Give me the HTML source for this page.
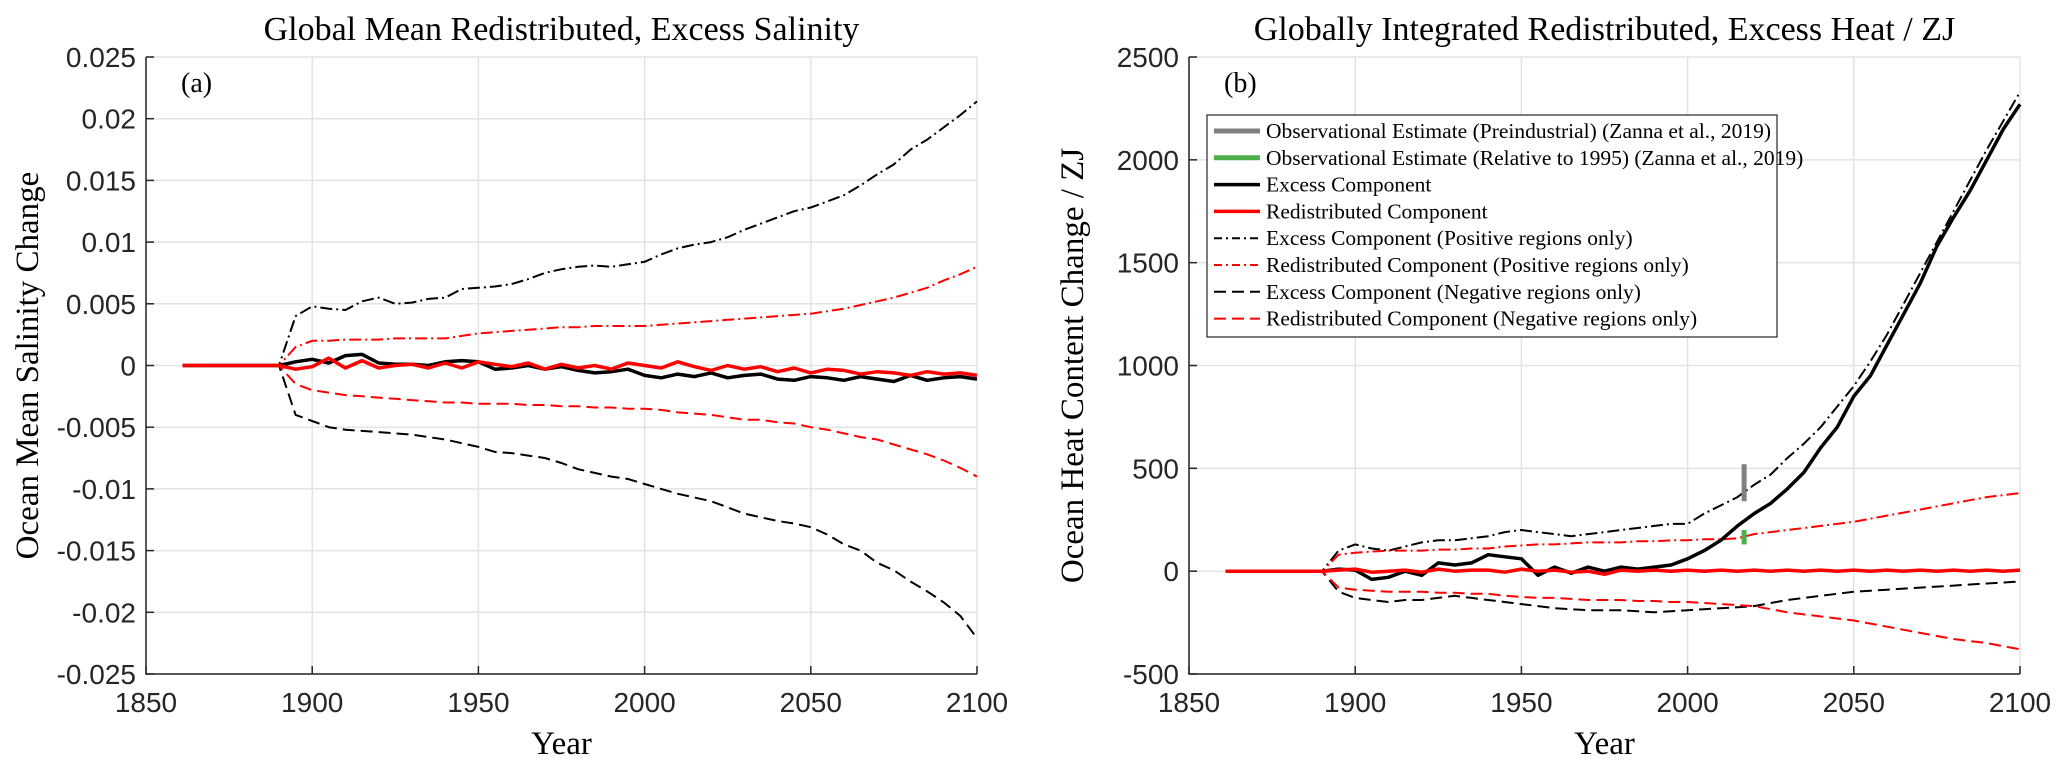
<!DOCTYPE html>
<html><head><meta charset="utf-8">
<style>
html,body{margin:0;padding:0;background:#fff;}
svg{display:block;}
.tick{font-family:"Liberation Sans",sans-serif;font-size:28px;fill:#262626;}
.ser{font-family:"Liberation Serif",serif;fill:#000;}
</style></head>
<body>
<svg id="chart" width="2067" height="763" viewBox="0 0 2067 763" xmlns="http://www.w3.org/2000/svg"></svg>
<script>
// ---------- DATA ----------
const yearsA = [1890,1895,1900,1905,1910,1915,1920,1925,1930,1935,1940,1945,1950,1955,1960,1965,1970,1975,1980,1985,1990,1995,2000,2005,2010,2015,2020,2025,2030,2035,2040,2045,2050,2055,2060,2065,2070,2075,2080,2085,2090,2095,2100];
const salExcess   = [0,0.0003,0.0005,0.0002,0.0008,0.0009,0.0002,0.0001,0.0001,0.0000,0.0003,0.0004,0.0003,-0.0003,-0.0002,0.0000,-0.0003,-0.0001,-0.0004,-0.0006,-0.0005,-0.0003,-0.0008,-0.0010,-0.0007,-0.0009,-0.0006,-0.0010,-0.0008,-0.0007,-0.0011,-0.0012,-0.0009,-0.0010,-0.0012,-0.0009,-0.0011,-0.0013,-0.0008,-0.0012,-0.0010,-0.0009,-0.0011];
const salRedist   = [0,-0.0003,-0.0001,0.0006,-0.0002,0.0004,-0.0002,0.0000,0.0001,-0.0002,0.0002,-0.0002,0.0003,0.0001,-0.0001,0.0002,-0.0003,0.0001,-0.0002,0.0000,-0.0003,0.0002,0.0000,-0.0002,0.0003,-0.0001,-0.0004,0.0000,-0.0003,-0.0001,-0.0005,-0.0002,-0.0006,-0.0003,-0.0004,-0.0007,-0.0005,-0.0006,-0.0008,-0.0005,-0.0007,-0.0006,-0.0008];
const salExcessPos= [0,0.0040,0.0048,0.0046,0.0045,0.0052,0.0055,0.0050,0.0051,0.0054,0.0055,0.0062,0.0063,0.0064,0.0066,0.0070,0.0075,0.0078,0.0080,0.0081,0.0080,0.0082,0.0084,0.0090,0.0095,0.0098,0.0100,0.0104,0.0110,0.0115,0.0120,0.0125,0.0128,0.0133,0.0138,0.0146,0.0155,0.0163,0.0175,0.0183,0.0193,0.0203,0.0214];
const salExcessNeg= [0,-0.0040,-0.0045,-0.0050,-0.0052,-0.0053,-0.0054,-0.0055,-0.0056,-0.0058,-0.0060,-0.0063,-0.0066,-0.0070,-0.0071,-0.0073,-0.0075,-0.0079,-0.0084,-0.0087,-0.0090,-0.0092,-0.0096,-0.0100,-0.0104,-0.0107,-0.0110,-0.0115,-0.0120,-0.0123,-0.0126,-0.0128,-0.0131,-0.0137,-0.0145,-0.0150,-0.0160,-0.0166,-0.0175,-0.0183,-0.0192,-0.0203,-0.0221];
const salRedistPos= [0,0.0015,0.0020,0.0020,0.0021,0.0021,0.0021,0.0022,0.0022,0.0022,0.0022,0.0024,0.0026,0.0027,0.0028,0.0029,0.0030,0.0031,0.0031,0.0032,0.0032,0.0032,0.0032,0.0033,0.0034,0.0035,0.0036,0.0037,0.0038,0.0039,0.0040,0.0041,0.0042,0.0044,0.0046,0.0049,0.0052,0.0055,0.0059,0.0063,0.0069,0.0074,0.0080];
const salRedistNeg= [0,-0.0015,-0.0020,-0.0022,-0.0024,-0.0025,-0.0026,-0.0027,-0.0028,-0.0029,-0.0030,-0.0030,-0.0031,-0.0031,-0.0031,-0.0032,-0.0032,-0.0033,-0.0033,-0.0034,-0.0034,-0.0035,-0.0035,-0.0036,-0.0038,-0.0039,-0.0040,-0.0042,-0.0044,-0.0044,-0.0046,-0.0047,-0.0050,-0.0052,-0.0055,-0.0058,-0.0060,-0.0064,-0.0068,-0.0072,-0.0077,-0.0083,-0.0090];

const heatExcess   = [0,10,5,-40,-30,0,-20,40,30,40,80,70,60,-20,20,-10,20,0,20,10,20,30,60,100,150,220,280,330,400,480,600,700,850,950,1100,1250,1400,1580,1720,1850,2000,2150,2270];
const heatRedist   = [0,5,10,-5,0,5,-5,10,0,5,5,-5,10,0,5,-5,0,-15,5,0,5,0,5,0,5,0,5,0,5,0,5,0,5,0,5,0,5,0,5,0,5,0,5];
const heatExcessPos= [0,100,130,110,100,120,140,150,150,160,170,190,200,190,180,170,180,190,200,210,220,230,230,280,320,360,420,470,550,620,700,800,900,1020,1150,1300,1450,1600,1750,1900,2050,2190,2330];
const heatExcessNeg= [0,-100,-130,-140,-150,-140,-140,-130,-120,-130,-140,-150,-160,-170,-180,-185,-190,-190,-190,-195,-200,-195,-190,-185,-180,-175,-170,-155,-140,-130,-120,-110,-100,-95,-90,-85,-80,-75,-70,-65,-60,-55,-50];
const heatRedistPos= [0,80,90,95,100,100,100,105,105,110,110,120,125,130,130,135,140,140,140,145,145,150,150,155,155,160,180,190,200,210,220,230,240,255,270,285,300,315,330,345,360,370,380];
const heatRedistNeg= [0,-80,-90,-95,-100,-100,-100,-105,-105,-110,-110,-120,-125,-130,-130,-135,-140,-140,-140,-145,-145,-150,-150,-155,-160,-165,-170,-185,-200,-210,-220,-230,-240,-255,-270,-285,-300,-315,-330,-340,-350,-365,-380];
const obsYear = [2017];
const obsPreind = [340,520];
const obsRel95 = [130,200];

const xTicks = [1850,1900,1950,2000,2050,2100];
const yTicksA = [0.025,0.02,0.015,0.01,0.005,0,-0.005,-0.01,-0.015,-0.02,-0.025];
const yTicksB = [2500,2000,1500,1000,500,0,-500];

// ---------- DRAW ----------
const NS="http://www.w3.org/2000/svg";
const svg=document.getElementById('chart');
function mk(tag,attrs,parent){const e=document.createElementNS(NS,tag);for(const k in attrs)e.setAttribute(k,attrs[k]);(parent||svg).appendChild(e);return e;}

function panel(cfg){
  const g=mk('g',{});
  
  
  const L=cfg.x0,R=cfg.x1,T=57,B=674;
  const sx=v=>L+(v-1850)/(2100-1850)*(R-L);
  const sy=v=>B-(v-cfg.ymin)/(cfg.ymax-cfg.ymin)*(B-T);
  xTicks.forEach(t=>{const l=mk('line',{x1:sx(t),x2:sx(t),y1:T,y2:B,stroke:'#e3e3e3','stroke-width':1.5},g);
    });
  cfg.yticks.forEach(t=>{const l=mk('line',{x1:L,x2:R,y1:sy(t),y2:sy(t),stroke:'#e3e3e3','stroke-width':1.5},g);
    });
  const ax=mk('path',{d:`M${L},${T}V${B}H${R}`,stroke:'#262626','stroke-width':1.5,fill:'none'},g);
  
  xTicks.forEach(t=>{mk('line',{x1:sx(t),x2:sx(t),y1:B,y2:B-8,stroke:'#262626','stroke-width':1.5},g);
    const tx=mk('text',{x:sx(t),y:B+38,'text-anchor':'middle',class:'tick'},g);tx.textContent=t;
    });
  cfg.yticks.forEach(t=>{mk('line',{x1:L,x2:L+8,y1:sy(t),y2:sy(t),stroke:'#262626','stroke-width':1.5},g);
    const tx=mk('text',{x:L-10,y:sy(t)+10,'text-anchor':'end',class:'tick'},g);tx.textContent=String(t);
    });
  const ti=mk('text',{x:(L+R)/2,y:40,'text-anchor':'middle',class:'ser','font-size':34},g);ti.textContent=cfg.title;
  
  const xl=mk('text',{x:(L+R)/2,y:754,'text-anchor':'middle',class:'ser','font-size':33},g);xl.textContent='Year';
  
  const yl=mk('text',{x:0,y:0,'text-anchor':'middle',class:'ser','font-size':33,transform:`translate(${cfg.ylx},${(T+B)/2}) rotate(-90)`},g);yl.textContent=cfg.ylabel;
  
  const pl=mk('text',{x:L+35,y:T+35,class:'ser','font-size':28},g);pl.textContent=cfg.letter;
  
  cfg.series.forEach(s=>{
    const pts=[[sx(1861),sy(0)]];
    yearsA.forEach((y,i)=>pts.push([sx(y),sy(s.v[i])]));
    const p=mk('polyline',{points:pts.map(p=>p[0].toFixed(1)+','+p[1].toFixed(1)).join(' '),fill:'none',stroke:s.c,'stroke-width':s.w,'stroke-dasharray':s.d||'none','stroke-linejoin':'round'},g);
    
  });
  return {sx,sy,g};
}

const A=panel({name:'salinity-panel',x0:146,x1:977,ymin:-0.025,ymax:0.025,yticks:yTicksA,
  title:'Global Mean Redistributed, Excess Salinity',ylabel:'Ocean Mean Salinity Change',ylx:38,letter:'(a)',
  series:[
   {n:'excess-positive-line',v:salExcessPos,c:'#000',w:2,d:'12 4 2 4'},
   {n:'excess-negative-line',v:salExcessNeg,c:'#000',w:2,d:'12 6'},
   {n:'redistributed-positive-line',v:salRedistPos,c:'#f00',w:2,d:'12 4 2 4'},
   {n:'redistributed-negative-line',v:salRedistNeg,c:'#f00',w:2,d:'12 6'},
   {n:'excess-line',v:salExcess,c:'#000',w:3.5},
   {n:'redistributed-line',v:salRedist,c:'#f00',w:3.5}]});

const Bp=panel({name:'heat-panel',x0:1189,x1:2020,ymin:-500,ymax:2500,yticks:yTicksB,
  title:'Globally Integrated Redistributed, Excess Heat / ZJ',ylabel:'Ocean Heat Content Change / ZJ',ylx:1083,letter:'(b)',
  series:[
   {n:'excess-positive-line',v:heatExcessPos,c:'#000',w:2,d:'12 4 2 4'},
   {n:'excess-negative-line',v:heatExcessNeg,c:'#000',w:2,d:'12 6'},
   {n:'redistributed-positive-line',v:heatRedistPos,c:'#f00',w:2,d:'12 4 2 4'},
   {n:'redistributed-negative-line',v:heatRedistNeg,c:'#f00',w:2,d:'12 6'},
   {n:'excess-line',v:heatExcess,c:'#000',w:3.5},
   {n:'redistributed-line',v:heatRedist,c:'#f00',w:3.5}]});

const o1=mk('line',{x1:Bp.sx(obsYear[0]),x2:Bp.sx(obsYear[0]),y1:Bp.sy(obsPreind[0]),y2:Bp.sy(obsPreind[1]),stroke:'#808080','stroke-width':5},Bp.g);

const o2=mk('line',{x1:Bp.sx(obsYear[0]),x2:Bp.sx(obsYear[0]),y1:Bp.sy(obsRel95[0]),y2:Bp.sy(obsRel95[1]),stroke:'#4daf4a','stroke-width':5},Bp.g);


const legItems=[
 ['Observational Estimate (Preindustrial) (Zanna et al., 2019)','#808080',5,'none'],
 ['Observational Estimate (Relative to 1995) (Zanna et al., 2019)','#4daf4a',5,'none'],
 ['Excess Component','#000',3.5,'none'],
 ['Redistributed Component','#f00',3.5,'none'],
 ['Excess Component (Positive regions only)','#000',2,'8 4 2 4'],
 ['Redistributed Component (Positive regions only)','#f00',2,'8 4 2 4'],
 ['Excess Component (Negative regions only)','#000',2,'12 6'],
 ['Redistributed Component (Negative regions only)','#f00',2,'12 6']];
const lg=mk('g',{});


mk('rect',{x:1207,y:115,width:570,height:222,fill:'#fff',stroke:'#262626','stroke-width':1.2},lg);
legItems.forEach((it,i)=>{
  const y=131+i*26.8;
  const e=mk('g',{},lg);
  
  
  mk('line',{x1:1214,x2:1260,y1:y,y2:y,stroke:it[1],'stroke-width':it[2],'stroke-dasharray':it[3]},e);
  const t=mk('text',{x:1266,y:y+7,class:'ser','font-size':21.5},e);t.textContent=it[0];
});
</script>
</body></html>
